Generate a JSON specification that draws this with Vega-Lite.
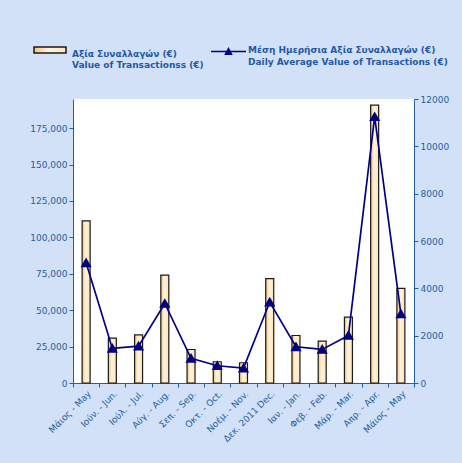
{
  "$schema": "https://vega.github.io/schema/vega-lite/v6.json",
  "width": 341,
  "height": 284,
  "autosize": {"type": "none"},
  "padding": {"left": 73, "top": 99, "right": 48, "bottom": 80},
  "background": "#D2E1F8",
  "config": {
    "view": {"fill": "white", "stroke": null},
    "font": "DejaVu Sans",
    "axis": {
      "labelFont": "DejaVu Sans",
      "labelFontSize": 9,
      "labelColor": "#1F5FA0",
      "domainColor": "#1F5FA0",
      "tickColor": "#1F5FA0",
      "grid": false,
      "title": null,
      "tickSize": 4
    },
    "legend": {"padding": 0, "labelLimit": 0}
  },
  "data": {
    "values": [
      {"key": "01|Μάιος - May", "value": 111300, "avg": 5080},
      {"key": "02|Ιούν. - Jun.", "value": 30800, "avg": 1460},
      {"key": "03|Ιούλ. - Jul.", "value": 33100, "avg": 1560},
      {"key": "04|Αύγ. - Aug.", "value": 74100, "avg": 3360},
      {"key": "05|Σεπ. - Sep.", "value": 23000, "avg": 1040},
      {"key": "06|Οκτ. - Oct.", "value": 14600, "avg": 730},
      {"key": "07|Νοέμ. - Nov.", "value": 13900, "avg": 630},
      {"key": "08|Δεκ. 2011 Dec.", "value": 71600, "avg": 3420},
      {"key": "09|Ιαν. - Jan.", "value": 32600, "avg": 1530},
      {"key": "10|Φεβ. - Feb.", "value": 28700, "avg": 1420},
      {"key": "11|Μάρ. - Mar.", "value": 45200, "avg": 2010},
      {"key": "12|Απρ. - Apr.", "value": 190800, "avg": 11250},
      {"key": "13|Μάιος - May", "value": 65000, "avg": 2925}
    ]
  },
  "encoding": {
    "x": {
      "field": "key",
      "type": "ordinal",
      "sort": null,
      "scale": {"paddingInner": 0, "paddingOuter": 0},
      "axis": {
        "labelExpr": "split(datum.label, '|')[1]",
        "labelAngle": -45,
        "tickBand": "extent",
        "labelPadding": 2
      }
    }
  },
  "layer": [
    {
      "mark": {
        "type": "bar",
        "width": 8,
        "strokeWidth": 1.2,
        "fill": {
          "gradient": "linear",
          "x1": 0, "y1": 0, "x2": 1, "y2": 0,
          "stops": [
            {"offset": 0, "color": "#F6C07A"},
            {"offset": 0.45, "color": "#FFF4DE"},
            {"offset": 1, "color": "#FFE2B4"}
          ]
        }
      },
      "encoding": {
        "y": {
          "field": "value",
          "type": "quantitative",
          "scale": {"domain": [0, 195000], "nice": false},
          "axis": {
            "values": [0, 25000, 50000, 75000, 100000, 125000, 150000, 175000],
            "format": ",d"
          }
        },
        "stroke": {
          "datum": "Αξία Συναλλαγών (€)|Value of Transactionss (€)",
          "scale": {"range": ["#1a1a1a"]},
          "legend": {
            "orient": "none",
            "legendX": -40,
            "legendY": -66,
            "title": null,
            "symbolType": "M-1,-0.19H1V0.19H-1Z",
            "symbolSize": 1024,
            "symbolStrokeWidth": 1.5,
            "symbolFillColor": "#FCDDA8",
            "labelExpr": "split(datum.label, '|')",
            "labelFont": "DejaVu Sans",
            "labelFontSize": 9,
            "labelFontWeight": "bold",
            "labelColor": "#1F5AA6",
            "labelBaseline": "top",
            "labelOffset": 5,
            "encode": {"labels": {"update": {"dy": {"value": -6}, "lineHeight": {"value": 12}}}}
          }
        }
      }
    },
    {
      "mark": {
        "type": "line",
        "strokeWidth": 1.7,
        "point": {"shape": "triangle-up", "filled": true, "size": 60, "color": "#000080"}
      },
      "encoding": {
        "y": {
          "field": "avg",
          "type": "quantitative",
          "scale": {"domain": [0, 12000], "nice": false},
          "axis": {
            "orient": "right",
            "values": [0, 2000, 4000, 6000, 8000, 10000, 12000],
            "format": "d"
          }
        },
        "stroke": {
          "datum": "Μέση Ημερήσια Αξία Συναλλαγών (€)|Daily Average Value of Transactions (€)",
          "scale": {"range": ["#000080"]},
          "legend": {
            "orient": "none",
            "legendX": 137,
            "legendY": -66,
            "title": null,
            "symbolType": "M-1,0H1M-0.17,0.15L0,-0.17L0.17,0.15Z",
            "symbolSize": 1225,
            "symbolStrokeWidth": 1.5,
            "symbolFillColor": "#000080",
            "labelExpr": "split(datum.label, '|')",
            "labelFont": "DejaVu Sans",
            "labelFontSize": 9,
            "labelFontWeight": "bold",
            "labelColor": "#1F5AA6",
            "labelBaseline": "top",
            "labelOffset": 1,
            "encode": {"labels": {"update": {"dy": {"value": -6}, "lineHeight": {"value": 12}}}}
          }
        }
      }
    }
  ],
  "resolve": {"scale": {"y": "independent", "stroke": "independent"}, "legend": {"stroke": "independent"}}
}
